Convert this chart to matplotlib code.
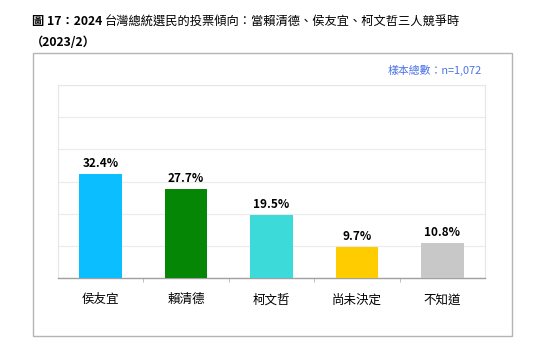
import matplotlib
matplotlib.use("Agg")
import matplotlib.pyplot as plt
from matplotlib.patches import Rectangle

plt.rcParams['font.family'] = ['Noto Sans CJK TC', 'DejaVu Sans']

categories = ["侯友宜", "賴清德", "柯文哲", "尚未決定", "不知道"]
values = [32.4, 27.7, 19.5, 9.7, 10.8]
colors = ["#0ABEFF", "#058605", "#3DDADA", "#FFCC00", "#C8C8C8"]
yticks = [0, 10, 20, 30, 40, 50, 60]

W, H = 545, 349
fig = plt.figure(figsize=(W / 100, H / 100), dpi=100)

def px(x, y):
    # pixel (from top-left) -> figure coords
    return x / W, 1 - y / H

# outer frame
x0, y0 = px(33, 336)
x1, y1 = px(512, 53)
fig.patches.append(Rectangle((x0, y0), x1 - x0, y1 - y0, transform=fig.transFigure,
                             fill=False, edgecolor="#B4B4B4", linewidth=1.0))

# title
tx, ty = px(32, 22)
t1 = fig.text(tx, ty, "圖 17：2024 ", fontsize=8.8, fontweight="bold", va="center", ha="left")
fig.canvas.draw()
bb = t1.get_window_extent()
fig.text(bb.x1 / W, ty, "台灣總統選民的投票傾向：當賴清德、侯友宜、柯文哲三人競爭時",
         fontsize=8.8, va="center", ha="left")
tx2, ty2 = px(31, 43)
fig.text(tx2, ty2, "（2023/2）", fontsize=8.8, fontweight="bold", va="center", ha="left")

nx, ny = px(482, 70)
fig.text(nx, ny, "樣本總數：n=1,072", fontsize=7.8, color="#4A72E8", va="center", ha="right")

# plot area
ax_l, ax_b = px(58, 278)
ax_r, ax_t = px(485, 85)
ax = fig.add_axes([ax_l, ax_b, ax_r - ax_l, ax_t - ax_b])

xs = range(len(categories))
ax.bar(xs, values, width=0.5, color=colors, zorder=3)
for x, v in zip(xs, values):
    ax.text(x, v + 1.2, f"{v}%", ha="center", va="bottom", fontsize=8.5, fontweight="bold")

ax.set_xlim(-0.5, len(categories) - 0.5)
ax.set_ylim(0, 60)
ax.set_yticks(yticks)
ax.yaxis.grid(True, color="#EBEBEB", linewidth=0.8, zorder=0)
ax.tick_params(axis="y", left=False, labelleft=False)
ax.set_xticks([x + 0.5 for x in range(len(categories) - 1)], minor=True)
ax.set_xticks(list(xs))
ax.set_xticklabels(categories, fontsize=9)
ax.tick_params(axis="x", which="major", length=0, pad=11)
ax.tick_params(axis="x", which="minor", length=3, color="#B4B4B4", direction="out")
for s in ["top", "right", "left"]:
    ax.spines[s].set_color("#E6E6E6")
    ax.spines[s].set_linewidth(0.8)
ax.spines["bottom"].set_color("#A0A0A0")
ax.spines["bottom"].set_linewidth(1.0)

fig.savefig("out.png", dpi=100)
